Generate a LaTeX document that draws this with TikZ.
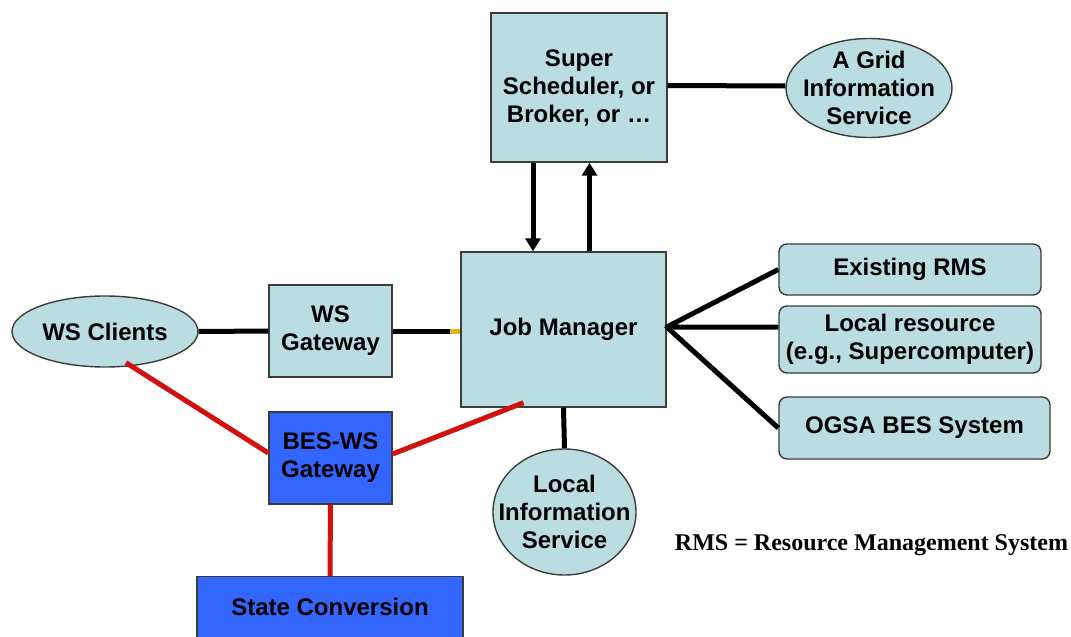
\documentclass[tikz,border=0pt]{standalone}
\usepackage{fontspec}
\setmainfont{Liberation Sans}
\newfontfamily\serifbold{Liberation Serif}
\usetikzlibrary{shapes.geometric,arrows.meta}
\definecolor{paleteal}{RGB}{186,221,225}
\definecolor{gateblue}{RGB}{51,102,255}
\definecolor{linkred}{RGB}{210,16,16}
\definecolor{rimgray}{RGB}{60,60,60}
\definecolor{tipyellow}{RGB}{225,180,30}
\tikzset{
  lbl/.style={font=\fontsize{24}{28}\selectfont\bfseries, align=center, text=black},
  tealbox/.style={lbl, rectangle, draw=rimgray, line width=1.4pt, fill=paleteal, inner sep=0pt},
  bluebox/.style={lbl, rectangle, draw=rimgray, line width=1.4pt, fill=gateblue, inner sep=0pt},
  roundbox/.style={tealbox, rounded corners=8pt},
  % fixed-size oval; its text is set as a centred label so the shape does not grow
  oval/.style={ellipse, draw=rimgray, line width=1.4pt, fill=paleteal, inner sep=0pt,
    label={[lbl]center:#1}},
  blackwire/.style={line width=5pt, black},
  redwire/.style={line width=5pt, linkred},
  flow/.style={line width=5pt, black, -{Triangle[width=15pt,length=13pt]}}
}
\begin{document}
\begin{tikzpicture}[x=1pt,y=-1pt]
\useasboundingbox (0,0) rectangle (1071,637);

% boxes and ovals
\node[tealbox, minimum width=176pt, minimum height=149pt] (sup) at (579,87.5)
  {Super\\Scheduler, or\\Broker, or \ldots};
\node[oval={A Grid\\Information\\Service}, minimum width=166pt, minimum height=99pt]
  (grid) at (869,88) {};
\node[tealbox, minimum width=205pt, minimum height=155pt] (jm) at (563.5,329.5)
  {Job Manager};
\node[oval={WS Clients}, minimum width=186pt, minimum height=71pt] (wsc) at (105,331.5) {};
\node[tealbox, minimum width=123pt, minimum height=92pt] (wsg) at (330.5,331)
  {WS\\Gateway};
\node[bluebox, minimum width=123pt, minimum height=92pt] (bes) at (330.5,458)
  {BES-WS\\Gateway};
\node[bluebox, minimum width=266pt, minimum height=62pt, anchor=north] (state) at (330,576)
  {};
\node[lbl] (statetxt) at (330,607) {State Conversion};
\node[oval={Local\\Information\\Service}, minimum width=143pt, minimum height=126pt]
  (lis) at (564.5,512) {};
\node[roundbox, minimum width=262pt, minimum height=51pt] (rms) at (910,269.5)
  {Existing RMS};
\node[roundbox, minimum width=262pt, minimum height=67pt] (loc) at (910,339.5)
  {Local resource\\(e.g., Supercomputer)};
\node[roundbox, minimum width=271pt, minimum height=62pt] (ogsa) at (914.5,428)
  {OGSA BES System};
\node[font=\serifbold\fontsize{24}{28}\selectfont\bfseries, text=black] (note) at (871.5,545)
  {RMS = Resource Management System};

% black connectors
\draw[blackwire] ([yshift=2pt]sup.east) -- ([yshift=2pt]grid.west);
\draw[flow] ([xshift=-46pt]sup.south) -- ([xshift=-46pt]sup.south |- jm.north);
\draw[flow] ([xshift=26pt]jm.north) -- ([xshift=26pt]jm.north |- sup.south);
\draw[blackwire] (wsc.east) -- (wsg.west);
\coordinate (jmin) at (wsg.east -| jm.west);
\draw[blackwire] (wsg.east) -- ([xshift=-10pt]jmin);
\draw[line width=5pt, tipyellow] ([xshift=-10pt]jmin) -- (jmin);
\coordinate (fan) at ([yshift=2.5pt]jm.east);
\draw[blackwire, line join=round] (rms.west) -- (fan) -- (fan -| loc.west);
\draw[blackwire] (fan) -- (ogsa.west);
\draw[blackwire] (jm.south) -- (lis.north);

% red links of the BES-WS gateway
\coordinate (wscfoot) at ([shift={(21pt,5pt)}]wsc.south);
\coordinate (jmfoot) at ([shift={(-40pt,5pt)}]jm.south);
\draw[redwire] (wscfoot) -- ([yshift=5pt]bes.west);
\draw[redwire] ([yshift=4pt]bes.east) -- (jmfoot);
\draw[redwire] (bes.south) -- (state.north);
\end{tikzpicture}
\end{document}
